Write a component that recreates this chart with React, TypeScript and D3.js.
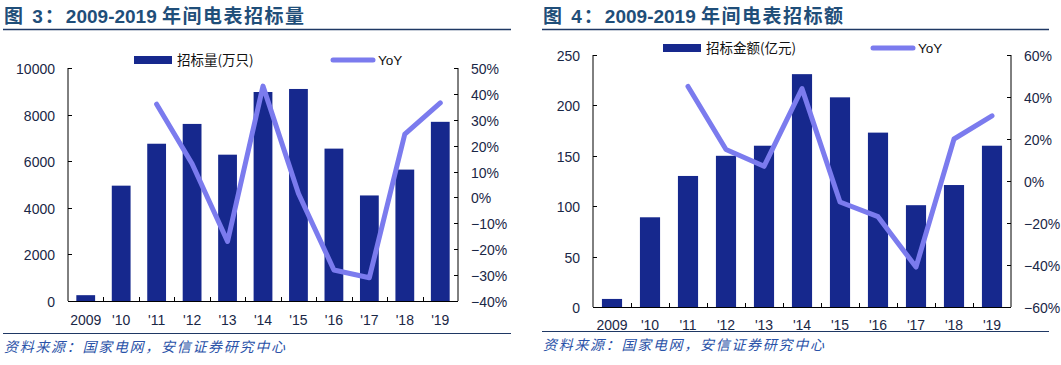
import React, {useEffect, useRef} from "react";
import * as d3 from "d3";

const years = ["2009", "'10", "'11", "'12", "'13", "'14", "'15", "'16", "'17", "'18", "'19"];

// figure 3: bid volume (10k units) and yoy %
const volume = [250, 4950, 6750, 7600, 6280, 8970, 9100, 6540, 4530, 5640, 7690];
const volumeYoy = [null, null, 36, 13, -17, 43, 1.5, -28, -31, 24.5, 36.5];

// figure 4: bid amount (100m yuan) and yoy %
const amount = [8, 89, 130, 150, 160, 231, 208, 173, 101, 121, 160];
const amountYoy = [null, null, 45, 15, 7, 44, -10, -17, -41, 20, 31];

const BAR = "#16288d";
const LINE = "#7b7bee";
const NAVY = "#1f3864";
const TICK_TEXT = "#1a2746";
const FONT = "'Liberation Sans', Arial, sans-serif";
const CJK = "'Noto Sans CJK SC', sans-serif";

interface Panel {
  x0: number;
  figNo: string;
  titleText: string;
  ruleX: [number, number];
  left: number;
  right: number;
  top: number;
  bottom: number;
  barLabel: string;
  legendX: number;
  yoyLegendX: number;
  legendY: number;
  bars: number[];
  yoy: (number | null)[];
  leftDomain: [number, number];
  leftStep: number;
  rightDomain: [number, number];
  rightStep: number;
  xLabelY: number;
  bottomRuleY: number;
  sourceY: number;
}

const panels: Panel[] = [
  {
    x0: 4,
    figNo: "图 3：",
    titleText: "年间电表招标量",
    ruleX: [3, 511],
    left: 68,
    right: 458,
    top: 68,
    bottom: 301,
    barLabel: "招标量(万只)",
    legendX: 134,
    yoyLegendX: 333,
    legendY: 60,
    bars: volume,
    yoy: volumeYoy,
    leftDomain: [0, 10000],
    leftStep: 2000,
    rightDomain: [-40, 50],
    rightStep: 10,
    xLabelY: 325,
    bottomRuleY: 333,
    sourceY: 352,
  },
  {
    x0: 543,
    figNo: "图 4：",
    titleText: "年间电表招标额",
    ruleX: [542, 1049],
    left: 593,
    right: 1011,
    top: 55,
    bottom: 307,
    barLabel: "招标金额(亿元)",
    legendX: 663,
    yoyLegendX: 873,
    legendY: 48,
    bars: amount,
    yoy: amountYoy,
    leftDomain: [0, 250],
    leftStep: 50,
    rightDomain: [-60, 60],
    rightStep: 20,
    xLabelY: 330,
    bottomRuleY: 331,
    sourceY: 350,
  },
];

function drawPanel(svg: any, p: Panel) {
  const g = svg.append("g");

  // title and rule under it
  const title = g.append("text")
    .attr("x", p.x0)
    .attr("y", 23)
    .attr("fill", "#1f4e79")
    .style("font-family", "'Liberation Sans', " + CJK)
    .style("font-weight", "bold")
    .style("font-size", "19px");
  title.append("tspan").style("letter-spacing", "2px").text(p.figNo);
  title.append("tspan").text("2009-2019 ");
  title.append("tspan").style("letter-spacing", "1.5px").text(p.titleText);
  g.append("line")
    .attr("x1", p.ruleX[0]).attr("x2", p.ruleX[1])
    .attr("y1", 29.5).attr("y2", 29.5)
    .attr("stroke", NAVY).attr("stroke-width", 1.5);

  const x = d3.scaleBand().domain(years).range([p.left, p.right]).paddingInner(0.47).paddingOuter(0.235);
  const step = (p.right - p.left) / years.length;
  const yL = d3.scaleLinear().domain(p.leftDomain).range([p.bottom, p.top]);
  const yR = d3.scaleLinear().domain(p.rightDomain).range([p.bottom, p.top]);

  // bars
  g.selectAll("rect.bar")
    .data(p.bars)
    .enter()
    .append("rect")
    .attr("x", (_: number, i: number) => x(years[i]))
    .attr("width", x.bandwidth())
    .attr("y", (d: number) => yL(d))
    .attr("height", (d: number) => p.bottom - yL(d))
    .attr("fill", BAR);

  // yoy line
  const pts = p.yoy.map((v, i) => ({v, i})).filter((d) => d.v !== null);
  const line = d3.line<any>()
    .x((d) => (x(years[d.i]) as number) + x.bandwidth() / 2)
    .y((d) => yR(d.v));
  g.append("path")
    .attr("d", line(pts))
    .attr("fill", "none")
    .attr("stroke", LINE)
    .attr("stroke-width", 5)
    .attr("stroke-linejoin", "round")
    .attr("stroke-linecap", "round");

  // axes frame
  const axisStroke = "#000";
  g.append("line").attr("x1", p.left).attr("x2", p.left).attr("y1", p.top).attr("y2", p.bottom).attr("stroke", axisStroke);
  g.append("line").attr("x1", p.right).attr("x2", p.right).attr("y1", p.top).attr("y2", p.bottom).attr("stroke", axisStroke);
  g.append("line").attr("x1", p.left).attr("x2", p.right).attr("y1", p.bottom + 0.5).attr("y2", p.bottom + 0.5).attr("stroke", axisStroke);

  const leftTicks = d3.range(p.leftDomain[0], p.leftDomain[1] + 1, p.leftStep);
  leftTicks.forEach((t) => {
    const y = Math.round(yL(t)) + 0.5;
    g.append("line").attr("x1", p.left).attr("x2", p.left + 4).attr("y1", y).attr("y2", y).attr("stroke", axisStroke);
    g.append("text")
      .attr("x", p.left - 13)
      .attr("y", y + 5)
      .attr("text-anchor", "end")
      .attr("fill", TICK_TEXT)
      .style("font-family", FONT)
      .style("font-size", "14px")
      .text(String(t));
  });

  const rightTicks = d3.range(p.rightDomain[0], p.rightDomain[1] + 1, p.rightStep);
  const pct = (v: number) => (v < 0 ? "\u2212" + Math.abs(v) : String(v)) + "%";
  rightTicks.forEach((t) => {
    const y = Math.round(yR(t)) + 0.5;
    g.append("line").attr("x1", p.right - 4).attr("x2", p.right).attr("y1", y).attr("y2", y).attr("stroke", axisStroke);
    g.append("text")
      .attr("x", p.right + 13)
      .attr("y", y + 5)
      .attr("fill", TICK_TEXT)
      .style("font-family", FONT)
      .style("font-size", "14px")
      .text(pct(t));
  });

  // category ticks between bars
  d3.range(1, years.length).forEach((i) => {
    const xx = Math.round(p.left + i * step) + 0.5;
    g.append("line").attr("x1", xx).attr("x2", xx).attr("y1", p.bottom - 4).attr("y2", p.bottom).attr("stroke", axisStroke);
  });

  g.selectAll("text.xl")
    .data(years)
    .enter()
    .append("text")
    .attr("x", (d: string) => (x(d) as number) + x.bandwidth() / 2)
    .attr("y", p.xLabelY)
    .attr("text-anchor", "middle")
    .attr("fill", TICK_TEXT)
    .style("font-family", FONT)
    .style("font-size", "14px")
    .text((d: string) => d);

  // legend
  g.append("rect")
    .attr("x", p.legendX).attr("y", p.legendY - 4)
    .attr("width", 38).attr("height", 8)
    .attr("fill", BAR);
  g.append("text")
    .attr("x", p.legendX + 43).attr("y", p.legendY + 5)
    .attr("fill", "#111")
    .style("font-family", CJK)
    .style("font-size", "13.5px")
    .text(p.barLabel);
  g.append("line")
    .attr("x1", p.yoyLegendX).attr("x2", p.yoyLegendX + 40)
    .attr("y1", p.legendY).attr("y2", p.legendY)
    .attr("stroke", LINE).attr("stroke-width", 5).attr("stroke-linecap", "round");
  g.append("text")
    .attr("x", p.yoyLegendX + 45).attr("y", p.legendY + 5)
    .attr("fill", "#111")
    .style("font-family", FONT)
    .style("font-size", "13.5px")
    .text("YoY");

  // source
  g.append("line")
    .attr("x1", p.ruleX[0]).attr("x2", p.ruleX[1])
    .attr("y1", p.bottomRuleY + 0.5).attr("y2", p.bottomRuleY + 0.5)
    .attr("stroke", NAVY).attr("stroke-width", 1);
  g.append("text")
    .attr("x", p.x0)
    .attr("y", p.sourceY)
    .attr("fill", "#2a52a8")
    .style("font-family", CJK)
    .style("font-style", "italic")
    .style("font-size", "14px")
    .style("letter-spacing", "1.7px")
    .text("资料来源：国家电网，安信证券研究中心");
}

export default function App() {
  const ref = useRef(null);

  useEffect(() => {
    if (!ref.current) return;
    const svg = d3.select(ref.current);
    svg.selectAll("*").remove();
    svg.append("rect").attr("width", 1061).attr("height", 365).attr("fill", "#fff");
    panels.forEach((p) => drawPanel(svg, p));
  }, []);

  return (
    <svg
      ref={ref}
      width={1061}
      height={365}
      style={{position: "absolute", left: 0, top: 0}}
    />
  );
}
